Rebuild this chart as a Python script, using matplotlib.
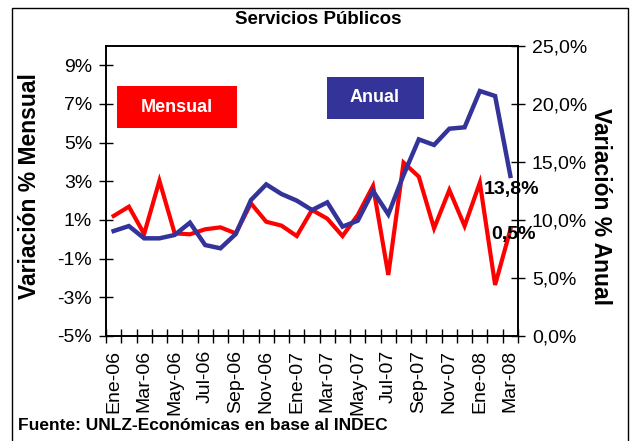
import matplotlib
matplotlib.use("Agg")
import matplotlib.pyplot as plt
from matplotlib.patches import Rectangle
from matplotlib.ticker import FixedLocator, FuncFormatter

plt.rcParams['font.family'] = ['Liberation Sans', 'DejaVu Sans']

months = ["Ene-06", "Feb-06", "Mar-06", "Abr-06", "May-06", "Jun-06", "Jul-06", "Ago-06",
          "Sep-06", "Oct-06", "Nov-06", "Dic-06", "Ene-07", "Feb-07", "Mar-07", "Abr-07",
          "May-07", "Jun-07", "Jul-07", "Ago-07", "Sep-07", "Oct-07", "Nov-07", "Dic-07",
          "Ene-08", "Feb-08", "Mar-08"]
mensual = [1.21, 1.69, 0.28, 3.03, 0.31, 0.26, 0.52, 0.62, 0.31, 1.86, 0.91, 0.71, 0.17,
           1.52, 1.07, 0.17, 1.26, 2.76, -1.84, 3.97, 3.24, 0.57, 2.55, 0.69, 2.93, -2.36, 0.5]
anual = [9.05, 9.48, 8.42, 8.42, 8.71, 9.77, 7.84, 7.56, 8.79, 11.72, 13.07, 12.24, 11.67,
         10.86, 11.52, 9.43, 9.94, 12.5, 10.49, 13.88, 16.95, 16.47, 17.87, 17.99, 21.12,
         20.69, 13.8]
left_ticks = [-5, -3, -1, 1, 3, 5, 7, 9]
right_ticks = [0, 5, 10, 15, 20, 25]

W, H = 632, 441
fig = plt.figure(figsize=(W / 100, H / 100), dpi=100)
L, R, T, B = 106, 518, 46, 336
ax = fig.add_axes([L / W, 1 - B / H, (R - L) / W, (B - T) / H])
ax2 = ax.twinx()

x = list(range(len(months)))
ax.plot(x, mensual, color="#FF0000", lw=3.0, solid_joinstyle="miter", zorder=3)
ax2.plot(x, anual, color="#333399", lw=3.2, solid_joinstyle="miter", zorder=3)

ax.set_xlim(-0.5, len(months) - 0.5)
ax.set_ylim(-5, 10)
ax2.set_ylim(0, 25)

ax.yaxis.set_major_locator(FixedLocator(left_ticks))
ax.yaxis.set_major_formatter(FuncFormatter(lambda v, p: f"{int(v)}%"))
ax2.yaxis.set_major_locator(FixedLocator(right_ticks))
ax2.yaxis.set_major_formatter(FuncFormatter(lambda v, p: f"{v:.1f}%".replace(".", ",")))

ax.set_xticks([i - 0.5 for i in range(len(months) + 1)])
ax.set_xticklabels([])
ax.set_xticks(x[::2], minor=True)
ax.set_xticklabels(months[::2], minor=True, rotation=90, fontsize=14)
ax.tick_params(axis='x', which='major', direction='inout', length=10, width=1)
ax.tick_params(axis='x', which='minor', length=0, pad=10)
ax.tick_params(axis='y', direction='inout', length=10, width=1, labelsize=14, pad=5)
ax2.tick_params(axis='y', direction='inout', length=10, width=1, labelsize=14, pad=5)

for a in (ax, ax2):
    for s in a.spines.values():
        s.set_linewidth(1.2)
        s.set_color("black")

ax.set_facecolor("none")

# axis titles
fig.text(30 / W, 1 - 186 / H, "Variación % Mensual", rotation=90, ha="center", va="center",
         fontsize=16.5, fontweight="bold")
fig.text(600 / W, 1 - 207 / H, "Variación % Anual", rotation=-90, ha="center", va="center",
         fontsize=16.5, fontweight="bold")

fig.text(318 / W, 1 - 20 / H, "Servicios Públicos", ha="center", va="center",
         fontsize=13.5, fontweight="bold")

# legend boxes
fig.add_artist(Rectangle((117 / W, 1 - 128 / H), 120 / W, 42 / H, transform=fig.transFigure,
                         facecolor="#FF0000", edgecolor="none", zorder=4))
fig.text(177 / W, 1 - 107 / H, "Mensual", ha="center", va="center", color="white",
         fontsize=13, fontweight="bold", zorder=5)
fig.add_artist(Rectangle((327 / W, 1 - 119 / H), 97 / W, 42 / H, transform=fig.transFigure,
                         facecolor="#333399", edgecolor="none", zorder=4))
fig.text(375 / W, 1 - 98 / H, "Anual", ha="center", va="center", color="white",
         fontsize=13, fontweight="bold", zorder=5)

# end labels
ax2.annotate(f"{anual[-1]:.1f}%".replace(".", ","), xy=(x[-1], anual[-1]),
             xytext=(-19, -10), textcoords="offset points", ha="left", va="center",
             fontsize=14, fontweight="bold", zorder=6)
ax.annotate(f"{mensual[-1]:.1f}%".replace(".", ","), xy=(x[-1], mensual[-1]),
            xytext=(-13.5, -3.5), textcoords="offset points", ha="left", va="center",
            fontsize=14, fontweight="bold", zorder=6)

fig.text(18 / W, 1 - 426 / H, "Fuente: UNLZ-Económicas en base al INDEC", ha="left",
         va="center", fontsize=12.5, fontweight="bold")

# outer frame
fig.add_artist(Rectangle((12 / W, -0.05), 616 / W, 1.05 - 8 / H, transform=fig.transFigure,
                         facecolor="none", edgecolor="black", lw=1))

fig.savefig("out.png", dpi=100)
